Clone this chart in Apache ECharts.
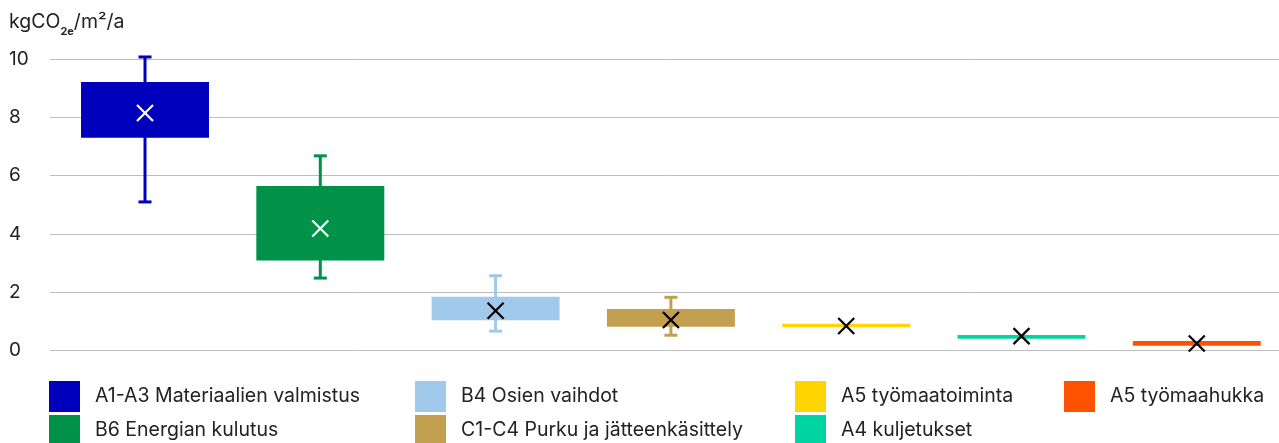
<!DOCTYPE html>
<html><head><meta charset="utf-8">
<script src="https://cdn.jsdelivr.net/npm/echarts@6/dist/echarts.min.js"></script>
<style>html,body{margin:0;padding:0;background:#fff}#c{width:1279px;height:443px}</style>
</head><body><div id="c"></div>
<script>
const categories = ['A1-A3 Materiaalien valmistus', 'B6 Energian kulutus', 'B4 Osien vaihdot', 'C1-C4 Purku ja jätteenkäsittely', 'A5 työmaatoiminta', 'A4 kuljetukset', 'A5 työmaahukka'];
const whiskerMin = [5.10, 2.49, 0.67, 0.53, 0.80, 0.41, 0.17];
const q1 = [7.30, 3.09, 1.04, 0.82, 0.80, 0.41, 0.17];
const q3 = [9.21, 5.65, 1.85, 1.43, 0.92, 0.54, 0.33];
const whiskerMax = [10.07, 6.68, 2.57, 1.83, 0.92, 0.54, 0.33];
const means = [8.15, 4.19, 1.37, 1.05, 0.85, 0.50, 0.25];
const yTicks = [0, 2, 4, 6, 8, 10];
const unitLabel = 'kgCO{s|2e}/m²/a';

const colors = ['#0000BC', '#009249', '#A0C9EC', '#C3A050', '#FFD400', '#00D4A0', '#FF5200'];
const markColors = ['#ffffff', '#ffffff', '#000000', '#000000', '#000000', '#000000', '#000000'];
const legendCols = [[0, 1], [2, 3], [4, 5], [6]];
const legendLeft = [49, 415, 795, 1064];
const FONT = 'Inter';

function renderItem(params, api) {
  const i = api.value(0);
  const cx = api.coord([i, 0])[0];
  const band = api.size([1, 0])[0];
  const bw = band * 0.73;
  const vMin = api.value(1), vQ1 = api.value(2), vQ3 = api.value(3), vMax = api.value(4), vMean = api.value(5);
  const yMin = api.coord([i, vMin])[1];
  const yQ1 = api.coord([i, vQ1])[1];
  const yQ3 = api.coord([i, vQ3])[1];
  const yMax = api.coord([i, vMax])[1];
  const yMean = api.coord([i, vMean])[1];
  const color = colors[params.seriesIndex];
  const mc = markColors[params.seriesIndex];
  const ch = [];
  if (vMax > vQ3 + 1e-9 || vMin < vQ1 - 1e-9) {
    const lw = 3, cw = 6.5;
    ch.push({type: 'line', shape: {x1: cx, y1: yMax, x2: cx, y2: yMin}, style: {stroke: color, lineWidth: lw}});
    ch.push({type: 'line', shape: {x1: cx - cw, y1: yMax, x2: cx + cw, y2: yMax}, style: {stroke: color, lineWidth: lw}});
    ch.push({type: 'line', shape: {x1: cx - cw, y1: yMin, x2: cx + cw, y2: yMin}, style: {stroke: color, lineWidth: lw}});
  }
  ch.push({type: 'rect', shape: {x: cx - bw / 2, y: yQ3, width: bw, height: Math.max(yQ1 - yQ3, 1)}, style: {fill: color}});
  const h = 8;
  ch.push({type: 'line', shape: {x1: cx - h, y1: yMean - h, x2: cx + h, y2: yMean + h}, style: {stroke: mc, lineWidth: 2.2}});
  ch.push({type: 'line', shape: {x1: cx - h, y1: yMean + h, x2: cx + h, y2: yMean - h}, style: {stroke: mc, lineWidth: 2.2}});
  return {type: 'group', children: ch};
}

const series = categories.map((name, i) => ({
  type: 'custom',
  name: name,
  renderItem: renderItem,
  itemStyle: {color: colors[i]},
  encode: {x: 0, y: [1, 2, 3, 4, 5]},
  data: [[i, whiskerMin[i], q1[i], q3[i], whiskerMax[i], means[i]]],
  animation: false
}));

const legends = legendCols.map((col, k) => ({
  orient: 'vertical',
  left: legendLeft[k],
  top: 381,
  height: 80,
  width: 400,
  padding: 0,
  itemWidth: 31,
  itemHeight: 31,
  itemGap: 3,
  icon: 'rect',
  selectedMode: false,
  data: col.map(i => categories[i]),
  textStyle: {fontFamily: FONT, fontSize: 19.5, color: '#222', padding: [3, 0, 0, 10]}
}));

const chart = echarts.init(document.getElementById('c'), null, {renderer: 'canvas'});
chart.setOption({
  animation: false,
  grid: {left: 50, right: 0, top: 59, bottom: 92.3},
  xAxis: {type: 'value', min: -0.542, max: 6.469, show: false, splitLine: {show: false}},
  yAxis: {
    type: 'value', min: yTicks[0], max: yTicks[yTicks.length - 1], interval: 2,
    axisLine: {show: false}, axisTick: {show: false},
    splitLine: {lineStyle: {color: '#bdbdbd', width: 1}},
    axisLabel: {fontFamily: FONT, fontSize: 19, color: '#222', align: 'left', margin: 41}
  },
  legend: legends,
  graphic: [{
    type: 'text', left: 9, top: 7,
    style: {
      text: unitLabel,
      rich: {
        s: {fontFamily: FONT, fontSize: 11, fontWeight: 'bold', fill: '#222', lineHeight: 11, verticalAlign: 'bottom'}
      },
      fontFamily: FONT, fontSize: 19.5, fill: '#222', lineHeight: 30
    }
  }],
  series: series
});
</script>
</body></html>
